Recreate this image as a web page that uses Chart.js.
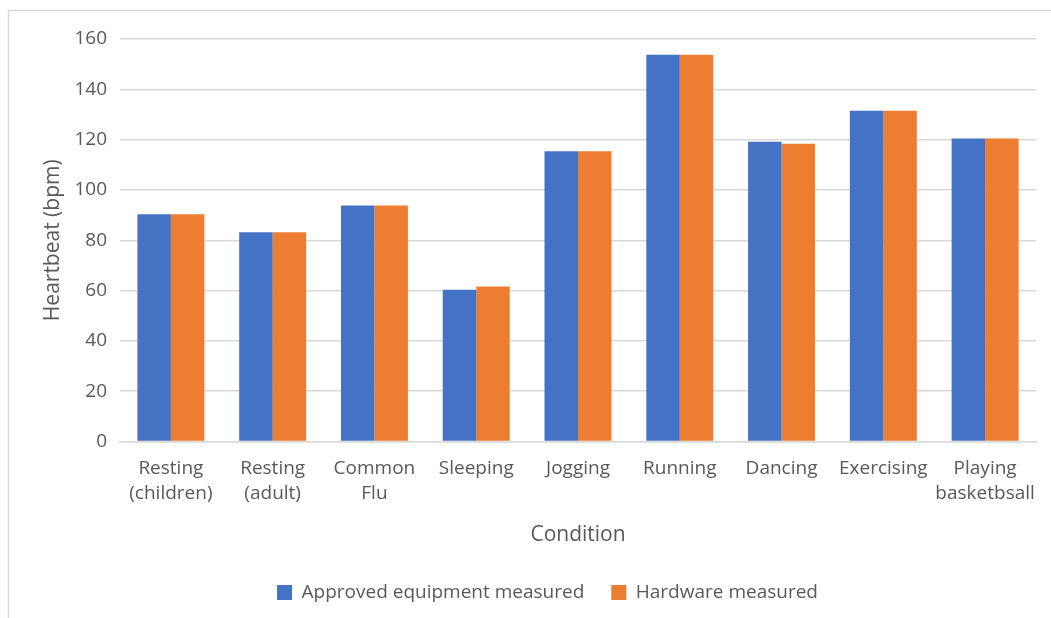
<!DOCTYPE html>
<html>
<head>
<meta charset="utf-8">
<script src="https://cdn.jsdelivr.net/npm/chart.js@4.4.1/dist/chart.umd.min.js"></script>
<style>
  html, body { margin: 0; padding: 0; background: #ffffff; }
  #wrap { position: relative; width: 1051px; height: 618px; }
</style>
</head>
<body>
<div id="wrap">
  <canvas id="chart" width="1051" height="618"></canvas>
</div>
<script>
// Conditions on the x axis (multi-line labels are arrays)
const conditions = [
  ["Resting", "(children)"],
  ["Resting", "(adult)"],
  ["Common", "Flu"],
  "Sleeping",
  "Jogging",
  "Running",
  "Dancing",
  "Exercising",
  ["Playing", "basketbsall"]
];

// Heart rate readings (bpm)
const approvedEquipment = [90.3, 83.2, 93.8, 60.3, 115.4, 153.7, 119.2, 131.5, 120.4];
const hardwareMeasured  = [90.3, 83.2, 93.8, 61.6, 115.4, 153.7, 118.4, 131.5, 120.4];

// Value axis ticks
const yTicks = [0, 20, 40, 60, 80, 100, 120, 140, 160];

const seriesNames = ["Approved equipment measured", "Hardware measured"];
const seriesColors = ["#4472C4", "#ED7D31"];

const textColor = "#595959";
const gridColor = "#D9D9D9";
const fontFamily = "'Open Sans', 'Noto Sans', sans-serif";

// Light outer frame of the chart
const framePlugin = {
  id: "frame",
  beforeDraw(chart) {
    const ctx = chart.ctx;
    ctx.save();
    ctx.strokeStyle = gridColor;
    ctx.lineWidth = 1.5;
    ctx.strokeRect(8.5, 10.5, chart.width + 20, chart.height + 20);
    ctx.restore();
  }
};

// Centre the legend row at a fixed horizontal position
const legendCenterX = 547.5;
const legendShiftPlugin = {
  id: "legendShift",
  afterLayout(chart) {
    const lg = chart.legend;
    if (!lg) return;
    const dx = legendCenterX - (lg.left + lg.right) / 2;
    lg.left += dx;
    lg.right += dx;
  }
};

new Chart(document.getElementById("chart"), {
  type: "bar",
  data: {
    labels: conditions,
    datasets: [
      {
        label: seriesNames[0],
        data: approvedEquipment,
        backgroundColor: seriesColors[0],
        borderWidth: 0
      },
      {
        label: seriesNames[1],
        data: hardwareMeasured,
        backgroundColor: seriesColors[1],
        borderWidth: 0
      }
    ]
  },
  options: {
    responsive: false,
    animation: false,
    devicePixelRatio: 1,
    layout: { padding: { left: 0, right: 15, top: 39, bottom: 6 } },
    datasets: {
      bar: { categoryPercentage: 0.658, barPercentage: 1.0 }
    },
    plugins: {
      legend: {
        position: "bottom",
        labels: {
          color: textColor,
          font: { family: fontFamily, size: 19 },
          boxWidth: 15,
          boxHeight: 15,
          padding: 27
        }
      },
      tooltip: { enabled: false }
    },
    scales: {
      x: {
        afterFit(scale) {
          scale.height = 114.5;
        },
        grid: { display: false, drawTicks: false },
        border: { display: true, color: gridColor, width: 1.5 },
        ticks: {
          color: textColor,
          font: { family: fontFamily, size: 19, lineHeight: 1.3 },
          padding: 15,
          maxRotation: 0,
          autoSkip: false
        },
        title: {
          display: true,
          text: "Condition",
          color: textColor,
          font: { family: fontFamily, size: 21 },
          padding: { top: 6, bottom: 8 }
        }
      },
      y: {
        min: 0,
        max: 160,
        afterBuildTicks(scale) {
          scale.ticks = yTicks.map(v => ({ value: v }));
        },
        afterFit(scale) {
          scale.width = 120;
        },
        grid: { color: gridColor, lineWidth: 1.5, drawTicks: false },
        border: { display: false },
        ticks: {
          color: textColor,
          font: { family: fontFamily, size: 19 },
          padding: 13
        },
        title: {
          display: true,
          text: "Heartbeat (bpm)",
          color: textColor,
          font: { family: fontFamily, size: 21 },
          padding: { top: 40, bottom: 0 }
        }
      }
    }
  },
  plugins: [framePlugin, legendShiftPlugin]
});
</script>
</body>
</html>
